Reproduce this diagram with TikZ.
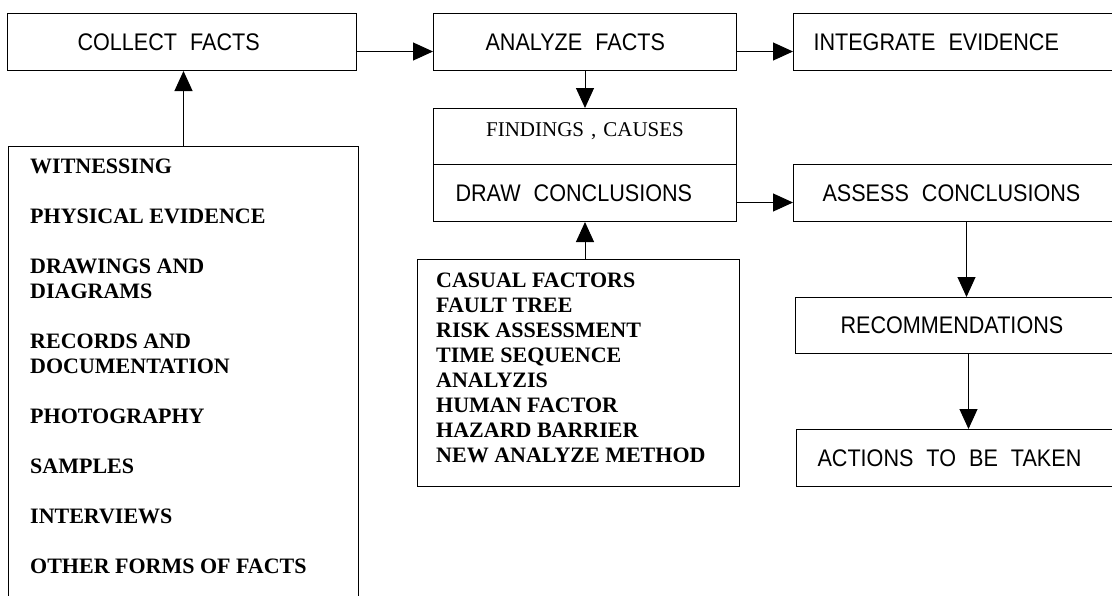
\documentclass[tikz,border=0pt]{standalone}
\usepackage{fontspec}
\usepackage{tikz}
\usetikzlibrary{arrows.meta}
\setmainfont{Liberation Serif}
\setsansfont{Liberation Sans}[FakeStretch=0.9]
\newcommand{\boxfont}{\sffamily\fontsize{24}{28}\selectfont\spaceskip=13pt plus 1pt\relax}
\newcommand{\listfont}{\rmfamily\bfseries\fontsize{22}{25}\selectfont}
\newcommand{\notefont}{\rmfamily\fontsize{21}{25}\selectfont}

\begin{document}
\begin{tikzpicture}[x=1pt,y=-1pt,
	box/.style={draw, line width=1pt, anchor=north west, minimum height=57pt, inner ysep=0pt, font=\boxfont, align=flush left},
	frame/.style={draw, line width=1pt, anchor=north west, inner sep=0pt},
	arr/.style={line width=1pt, -{Triangle[length=20pt,width=18pt]}},
	item/.style={anchor=base west, inner sep=0pt, font=\listfont}]
	\useasboundingbox (0,0) rectangle (1112,595);
	\clip (0,0) rectangle (1112,595);
	\node[box, text width=209pt, inner xsep=70pt] (collect) at (7,13) {COLLECT FACTS};
	\node[box, text width=199pt, inner xsep=52pt] (analyze) at (433,13) {ANALYZE FACTS};
	\node[box, text width=306pt, inner xsep=20pt] (integrate) at (793,13) {INTEGRATE EVIDENCE};
	\node[box, align=center, minimum height=56pt, text width=263pt, inner xsep=20pt, font=\notefont, text height=14pt, text depth=14pt] (findings) at (433,108) {FINDINGS , CAUSES};
	\node[box, text width=259pt, inner xsep=22pt] (draw) at (433,164) {DRAW CONCLUSIONS};
	\node[box, text width=288pt, inner xsep=29pt] (assess) at (793,164) {ASSESS CONCLUSIONS};
	\node[box, minimum height=56pt, text width=256pt, inner xsep=45pt] (recomm) at (795,297) {RECOMMENDATIONS};
	\node[box, text width=304pt, inner xsep=21pt] (actions) at (796,429) {ACTIONS TO BE TAKEN};
	\node[frame, minimum width=350pt, minimum height=480pt] (factsbox) at (8,146) {};
	\node[frame, minimum width=322pt, minimum height=227pt] (methods) at (417,259) {};
	\foreach \yy/\txt [count=\i] in {166/WITNESSING, 216/PHYSICAL EVIDENCE, 266/DRAWINGS AND, 291/DIAGRAMS, 341/RECORDS AND, 366/DOCUMENTATION, 416/PHOTOGRAPHY, 466/SAMPLES, 516/INTERVIEWS, 566/OTHER FORMS OF FACTS}{
		\node[item] (fact\i) at (30,\yy+7) {\txt};}
	\foreach \txt [count=\i] in {CASUAL FACTORS, FAULT TREE, RISK ASSESSMENT, TIME SEQUENCE, ANALYZIS, HUMAN FACTOR, HAZARD BARRIER, NEW ANALYZE METHOD}{
		\node[item] (method\i) at (436,255+25*\i+7) {\txt};}
	\draw[arr] ([yshift=-9.5pt]collect.east) -- ([yshift=-9.5pt]analyze.west);
	\draw[arr] ([yshift=-9.5pt]analyze.east) -- ([yshift=-9.5pt]integrate.west);
	\draw[arr] (analyze.south) -- (findings.north);
	\draw[arr] (factsbox.north) -- (factsbox.north |- collect.south);
	\draw[arr] (methods.north -| draw.south) -- (draw.south);
	\draw[arr] ([yshift=-9.5pt]draw.east) -- ([yshift=-9.5pt]assess.west);
	\draw[arr] (assess.south) -- (assess.south |- recomm.north);
	\draw[arr] (recomm.south) -- (recomm.south |- actions.north);
\end{tikzpicture}
\end{document}
